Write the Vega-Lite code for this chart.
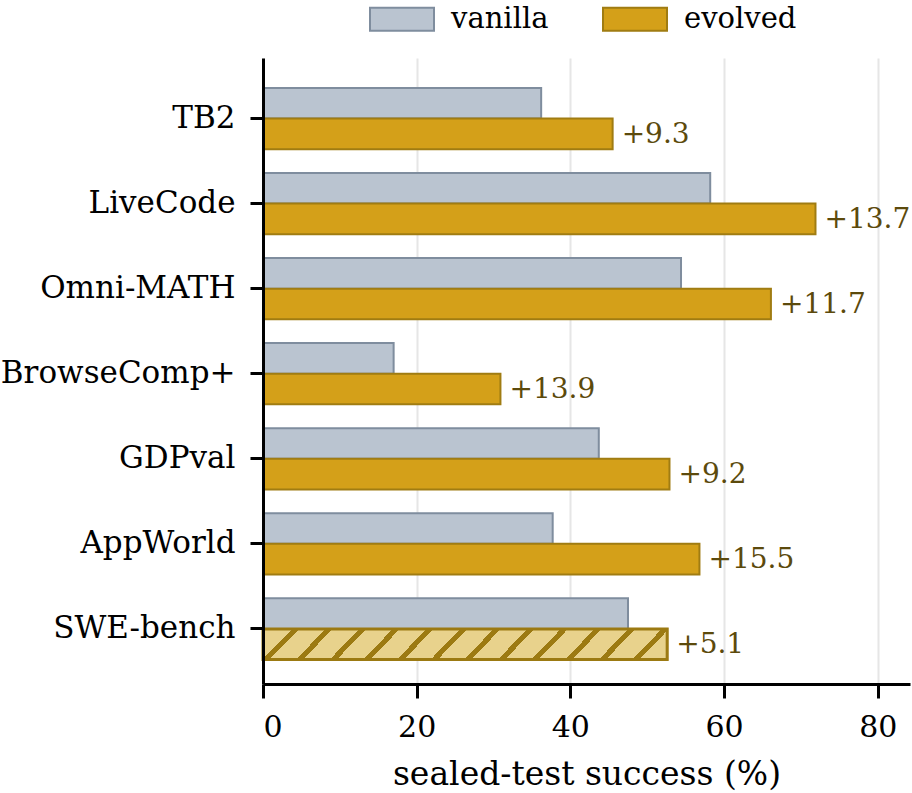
{
  "$schema": "https://vega.github.io/schema/vega-lite/v6.json",
  "autosize": {"type": "none"},
  "width": 647,
  "height": 626,
  "padding": {"left": 263, "top": 58, "right": 2, "bottom": 109},
  "background": "white",
  "config": {
    "font": "DejaVu Serif",
    "view": {"stroke": null}
  },
  "data": {
    "values": [
      {"benchmark": "TB2", "series": "vanilla", "value": 36.2},
      {"benchmark": "TB2", "series": "evolved", "value": 45.5, "gain": "+9.3"},
      {"benchmark": "LiveCode", "series": "vanilla", "value": 58.2},
      {"benchmark": "LiveCode", "series": "evolved", "value": 71.9, "gain": "+13.7"},
      {"benchmark": "Omni-MATH", "series": "vanilla", "value": 54.4},
      {"benchmark": "Omni-MATH", "series": "evolved", "value": 66.1, "gain": "+11.7"},
      {"benchmark": "BrowseComp+", "series": "vanilla", "value": 17.0},
      {"benchmark": "BrowseComp+", "series": "evolved", "value": 30.9, "gain": "+13.9"},
      {"benchmark": "GDPval", "series": "vanilla", "value": 43.7},
      {"benchmark": "GDPval", "series": "evolved", "value": 52.9, "gain": "+9.2"},
      {"benchmark": "AppWorld", "series": "vanilla", "value": 37.7},
      {"benchmark": "AppWorld", "series": "evolved", "value": 56.8, "gain": "+15.5"},
      {"benchmark": "SWE-bench", "series": "vanilla", "value": 47.5},
      {"benchmark": "SWE-bench", "series": "evolved", "value": 52.6, "gain": "+5.1"}
    ]
  },
  "encoding": {
    "y": {
      "field": "benchmark",
      "type": "nominal",
      "sort": ["TB2", "LiveCode", "Omni-MATH", "BrowseComp+", "GDPval", "AppWorld", "SWE-bench"],
      "scale": {"paddingInner": 0.28, "paddingOuter": 0.32, "align": 0.55},
      "axis": {
        "title": null,
        "zindex": 1,
        "domainColor": "black",
        "domainWidth": 3,
        "tickColor": "black",
        "tickWidth": 3,
        "tickSize": 13,
        "labelFontSize": 31,
        "labelColor": "black",
        "labelPadding": 15,
        "labelLimit": 0,
        "labelFont": "DejaVu Serif"
      }
    },
    "yOffset": {
      "field": "series",
      "type": "nominal",
      "sort": ["vanilla", "evolved"],
      "scale": {"paddingInner": 0, "paddingOuter": 0}
    },
    "x": {
      "field": "value",
      "type": "quantitative",
      "scale": {"domain": [0, 84.2], "nice": false},
      "axis": {
        "title": "sealed-test success (%)",
        "titleFontSize": 33,
        "titleFontWeight": "normal",
        "titleColor": "black",
        "titleFont": "DejaVu Serif",
        "titlePadding": 16,
        "values": [0, 20, 40, 60, 80],
        "grid": true,
        "gridColor": "#e6e6e6",
        "gridWidth": 2,
        "domainColor": "black",
        "domainWidth": 3,
        "tickColor": "black",
        "tickWidth": 3,
        "tickSize": 14,
        "labelFontSize": 30,
        "labelColor": "black",
        "labelPadding": 14,
        "labelFont": "DejaVu Serif"
      }
    }
  },
  "layer": [
    {
      "mark": {"type": "bar", "strokeWidth": 2},
      "encoding": {
        "fill": {
          "field": "series",
          "type": "nominal",
          "scale": {"domain": ["vanilla", "evolved"], "range": ["#bac4d0", "#d4a019"]},
          "legend": {
            "title": null,
            "orient": "none",
            "direction": "horizontal",
            "legendX": 106,
            "legendY": -72,
            "padding": 0,
            "symbolType": "M-1,-0.36H1V0.36H-1Z",
            "symbolSize": 4096,
            "symbolStrokeWidth": 2,
            "labelFontSize": 29,
            "labelFont": "DejaVu Serif",
            "labelColor": "black",
            "labelOffset": 16,
            "columnPadding": 50
          }
        },
        "stroke": {
          "field": "series",
          "type": "nominal",
          "scale": {"domain": ["vanilla", "evolved"], "range": ["#7f8d9e", "#a07c12"]},
          "legend": {
            "title": null,
            "orient": "none",
            "direction": "horizontal",
            "legendX": 106,
            "legendY": -72,
            "padding": 0,
            "symbolType": "M-1,-0.36H1V0.36H-1Z",
            "symbolSize": 4096,
            "symbolStrokeWidth": 2,
            "labelFontSize": 29,
            "labelFont": "DejaVu Serif",
            "labelColor": "black",
            "labelOffset": 16,
            "columnPadding": 50
          }
        }
      }
    },
    {
      "transform": [{"filter": "datum.benchmark === 'SWE-bench' && datum.series === 'evolved'"}],
      "mark": {
        "type": "bar",
        "stroke": "#9c7a12",
        "strokeWidth": 3,
        "fill": {
          "gradient": "linear",
          "x1": 0, "y1": 0, "x2": 1.08, "y2": 0.08,
          "stops": [
            {"offset": 0, "color": "#e8d28c"},
            {"offset": 0.067, "color": "#e8d28c"}, {"offset": 0.067, "color": "#9c7a12"}, {"offset": 0.083, "color": "#9c7a12"}, {"offset": 0.083, "color": "#e8d28c"},
            {"offset": 0.143, "color": "#e8d28c"}, {"offset": 0.143, "color": "#9c7a12"}, {"offset": 0.159, "color": "#9c7a12"}, {"offset": 0.159, "color": "#e8d28c"},
            {"offset": 0.220, "color": "#e8d28c"}, {"offset": 0.220, "color": "#9c7a12"}, {"offset": 0.236, "color": "#9c7a12"}, {"offset": 0.236, "color": "#e8d28c"},
            {"offset": 0.296, "color": "#e8d28c"}, {"offset": 0.296, "color": "#9c7a12"}, {"offset": 0.312, "color": "#9c7a12"}, {"offset": 0.312, "color": "#e8d28c"},
            {"offset": 0.373, "color": "#e8d28c"}, {"offset": 0.373, "color": "#9c7a12"}, {"offset": 0.389, "color": "#9c7a12"}, {"offset": 0.389, "color": "#e8d28c"},
            {"offset": 0.450, "color": "#e8d28c"}, {"offset": 0.450, "color": "#9c7a12"}, {"offset": 0.466, "color": "#9c7a12"}, {"offset": 0.466, "color": "#e8d28c"},
            {"offset": 0.526, "color": "#e8d28c"}, {"offset": 0.526, "color": "#9c7a12"}, {"offset": 0.542, "color": "#9c7a12"}, {"offset": 0.542, "color": "#e8d28c"},
            {"offset": 0.603, "color": "#e8d28c"}, {"offset": 0.603, "color": "#9c7a12"}, {"offset": 0.619, "color": "#9c7a12"}, {"offset": 0.619, "color": "#e8d28c"},
            {"offset": 0.679, "color": "#e8d28c"}, {"offset": 0.679, "color": "#9c7a12"}, {"offset": 0.695, "color": "#9c7a12"}, {"offset": 0.695, "color": "#e8d28c"},
            {"offset": 0.756, "color": "#e8d28c"}, {"offset": 0.756, "color": "#9c7a12"}, {"offset": 0.772, "color": "#9c7a12"}, {"offset": 0.772, "color": "#e8d28c"},
            {"offset": 0.833, "color": "#e8d28c"}, {"offset": 0.833, "color": "#9c7a12"}, {"offset": 0.849, "color": "#9c7a12"}, {"offset": 0.849, "color": "#e8d28c"},
            {"offset": 0.909, "color": "#e8d28c"}, {"offset": 0.909, "color": "#9c7a12"}, {"offset": 0.925, "color": "#9c7a12"}, {"offset": 0.925, "color": "#e8d28c"},
            {"offset": 1, "color": "#e8d28c"}
          ]
        }
      }
    },
    {
      "transform": [{"filter": "datum.series === 'evolved'"}],
      "mark": {
        "type": "text",
        "align": "left",
        "baseline": "middle",
        "dx": 9,
        "dy": 1,
        "font": "DejaVu Serif",
        "fontSize": 28,
        "color": "#5c4a0c"
      },
      "encoding": {
        "text": {"field": "gain"}
      }
    }
  ]
}
